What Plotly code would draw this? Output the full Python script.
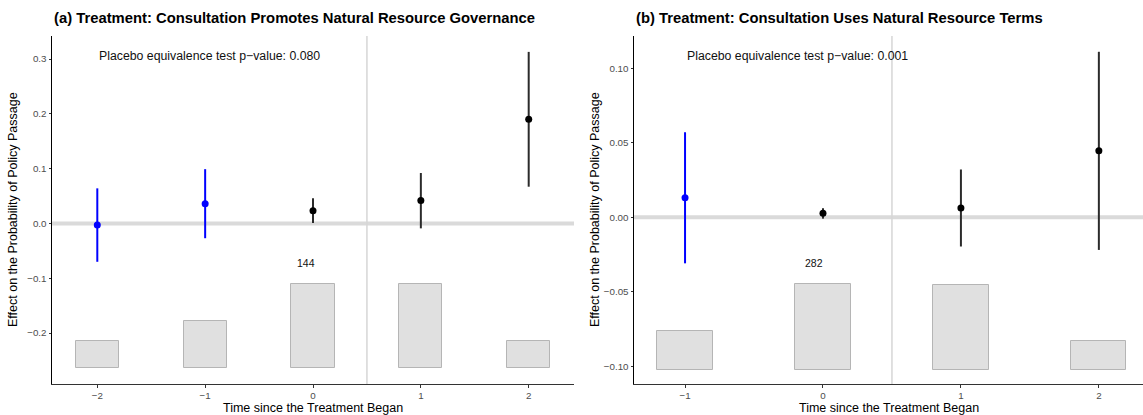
import plotly.graph_objects as go

# ---- Panel (a): consultation promotes natural resource governance ----
a_time = [-2, -1, 0, 1, 2]
a_est = [-0.003, 0.036, 0.023, 0.042, 0.190]
a_lo = [-0.070, -0.027, 0.001, -0.009, 0.067]
a_hi = [0.064, 0.099, 0.046, 0.092, 0.313]
a_placebo = [True, True, False, False, False]
a_count = [47, 81, 144, 143, 46]
a_pval = "0.080"

# ---- Panel (b): consultation uses natural resource terms ----
b_time = [-1, 0, 1, 2]
b_est = [0.013, 0.0026, 0.0062, 0.0445]
b_lo = [-0.031, -0.001, -0.0197, -0.022]
b_hi = [0.057, 0.006, 0.032, 0.111]
b_placebo = [True, False, False, False]
b_count = [129, 282, 280, 95]
b_pval = "0.001"

W, H = 1143, 415
TOP, BOTTOM = 36, 384
FONT = "Liberation Sans, Arial, Helvetica, sans-serif"
BLUE = "#0000ff"
DARK = "#2b2b2b"

fig = go.Figure()

panels = [
    dict(t=a_time, est=a_est, lo=a_lo, hi=a_hi, pl=a_placebo, cnt=a_count, p=a_pval,
         xs="x", ys="y", xrange=[-2.42, 2.42], yrange=[-0.293, 0.342],
         bar_base=-0.264, bar_top=-0.110, px=(52, 574),
         yticks=[-0.2, -0.1, 0.0, 0.1, 0.2, 0.3], yfmt=".1f",
         title="(a) Treatment: Consultation Promotes Natural Resource Governance"),
    dict(t=b_time, est=b_est, lo=b_lo, hi=b_hi, pl=b_placebo, cnt=b_count, p=b_pval,
         xs="x2", ys="y2", xrange=[-1.37, 2.32], yrange=[-0.112, 0.1216],
         bar_base=-0.1024, bar_top=-0.0451, px=(634, 1143),
         yticks=[-0.10, -0.05, 0.0, 0.05, 0.10], yfmt=".2f",
         title="(b) Treatment: Consultation Uses Natural Resource Terms"),
]

shapes = []
annotations = []
layout_axes = {}

for i, pn in enumerate(panels):
    xs, ys = pn["xs"], pn["ys"]
    # count histogram scaled into the bottom band of the panel
    cmax = max(pn["cnt"])
    span = pn["bar_top"] - pn["bar_base"]
    heights = [c / cmax * span for c in pn["cnt"]]
    fig.add_trace(go.Bar(
        x=pn["t"], y=heights, base=pn["bar_base"], width=0.4,
        marker=dict(color="#e0e0e0", line=dict(color="#b5b5b5", width=1)),
        xaxis=xs, yaxis=ys, showlegend=False, hoverinfo="skip"))

    # confidence intervals and point estimates
    for t, e, lo, hi, pl in zip(pn["t"], pn["est"], pn["lo"], pn["hi"], pn["pl"]):
        col = BLUE if pl else DARK
        fig.add_trace(go.Scatter(
            x=[t, t], y=[lo, hi], mode="lines",
            line=dict(color=col, width=2), xaxis=xs, yaxis=ys,
            showlegend=False, hoverinfo="skip"))
        fig.add_trace(go.Scatter(
            x=[t], y=[e], mode="markers",
            marker=dict(color=BLUE if pl else "#000000", size=7),
            xaxis=xs, yaxis=ys, showlegend=False))

    # max count label above the tallest bar
    imax = pn["cnt"].index(cmax)
    annotations.append(dict(
        x=pn["t"][imax] - 0.065, y=pn["bar_top"] + span * 0.25, xref=xs, yref=ys,
        text=str(cmax), showarrow=False, font=dict(family=FONT, size=10.5, color="#111")))

    # reference lines: zero effect and treatment onset
    shapes.append(dict(type="line", xref=f"{xs} domain", yref=ys, x0=0, x1=1, y0=0, y1=0,
                       line=dict(color="#dadada", width=4), layer="below"))
    shapes.append(dict(type="line", xref=xs, yref=f"{ys} domain", x0=0.5, x1=0.5, y0=0, y1=1,
                       line=dict(color="#d6d6d6", width=1.5), layer="below"))

    x0, x1 = pn["px"]
    dom = [x0 / W, min(x1 / W, 1.0)]
    ydom = [1 - BOTTOM / H, 1 - TOP / H]
    xkey = "xaxis" if i == 0 else "xaxis2"
    ykey = "yaxis" if i == 0 else "yaxis2"
    tickfont = dict(family=FONT, size=9.8, color="#4d4d4d")
    layout_axes[xkey] = dict(
        domain=dom, range=pn["xrange"], anchor=ys,
        tickvals=pn["t"], ticktext=[str(v).replace("-", "\u2212") for v in pn["t"]],
        showgrid=False, zeroline=False, showline=True, linecolor="#333", linewidth=1,
        ticks="outside", ticklen=2.5, tickcolor="#333", tickfont=tickfont)
    layout_axes[ykey] = dict(
        domain=ydom, range=pn["yrange"], anchor=xs,
        tickvals=pn["yticks"], tickformat=pn["yfmt"],
        showgrid=False, zeroline=False, showline=True, linecolor="#000", linewidth=1,
        ticks="outside", ticklen=2.5, tickcolor="#333", tickfont=tickfont)

    # titles and labels
    annotations.append(dict(
        x=x0 / W, y=1 - 18 / H, xref="paper", yref="paper", xanchor="left", yanchor="middle",
        text=f"<b>{pn['title']}</b>", showarrow=False,
        font=dict(family=FONT, size=14.8, color="#000")))
    annotations.append(dict(
        x=pn["t"][0], y=1 - 56 / H, xref=xs, yref="paper", xanchor="left", yanchor="middle",
        text=f"Placebo equivalence test p\u2212value: {pn['p']}", showarrow=False,
        font=dict(family=FONT, size=12.3, color="#111")))
    annotations.append(dict(
        x=(x0 + min(x1, W)) / 2 / W, y=1 - 407.5 / H, xref="paper", yref="paper",
        xanchor="center", yanchor="middle", text="Time since the Treatment Began",
        showarrow=False, font=dict(family=FONT, size=12.5, color="#000")))
    annotations.append(dict(
        x=(x0 - 39) / W, y=1 - 210 / H, xref="paper", yref="paper",
        xanchor="center", yanchor="middle", textangle=-90,
        text="Effect on the Probability of Policy Passage",
        showarrow=False, font=dict(family=FONT, size=12.5, color="#000")))

fig.update_layout(
    width=W, height=H, margin=dict(l=0, r=0, t=0, b=0),
    paper_bgcolor="white", plot_bgcolor="white",
    shapes=shapes, annotations=annotations, showlegend=False, bargap=0,
    **layout_axes)

fig.write_html("out.html")
